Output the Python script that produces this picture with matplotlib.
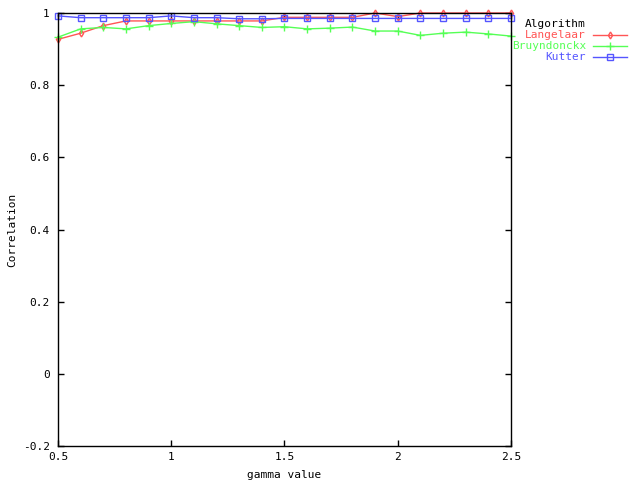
import matplotlib
matplotlib.use("Agg")
import matplotlib.pyplot as plt
from matplotlib.lines import Line2D
from matplotlib.ticker import FuncFormatter

gamma = [0.5, 0.6, 0.7, 0.8, 0.9, 1.0, 1.1, 1.2, 1.3, 1.4, 1.5,
         1.6, 1.7, 1.8, 1.9, 2.0, 2.1, 2.2, 2.3, 2.4, 2.5]
langelaar = [0.927, 0.944, 0.965, 0.978, 0.978, 0.978, 0.978, 0.978, 0.978, 0.978, 0.988,
             0.988, 0.988, 0.988, 1.0, 0.99, 1.0, 1.0, 1.0, 1.0, 1.0]
bruyndonckx = [0.933, 0.956, 0.960, 0.956, 0.965, 0.971, 0.976, 0.970, 0.965, 0.960, 0.962,
               0.956, 0.958, 0.961, 0.950, 0.950, 0.938, 0.944, 0.947, 0.942, 0.936]
kutter = [0.992, 0.987, 0.987, 0.987, 0.987, 0.992, 0.987, 0.987, 0.984, 0.984, 0.985,
          0.985, 0.985, 0.985, 0.985, 0.985, 0.985, 0.985, 0.985, 0.985, 0.985]
series_names = ["Langelaar", "Bruyndonckx", "Kutter"]
x_ticks = [0.5, 1.0, 1.5, 2.0, 2.5]
y_ticks = [-0.2, 0.0, 0.2, 0.4, 0.6, 0.8, 1.0]

colors = ["#ff5555", "#55ff55", "#5555ff"]
markers = ["d", "+", "s"]
msizes = [3.5, 5.5, 4.5]
font = "DejaVu Sans Mono"

fig = plt.figure(figsize=(6.4, 4.8), dpi=100)
ax = fig.add_axes([58/640, 1-446/480, (511-58)/640, (446-13)/480])

data = [langelaar, bruyndonckx, kutter]
for vals, c, m, ms in zip(data, colors, markers, msizes):
    ax.plot(gamma, vals, color=c, lw=1, marker=m, markersize=ms,
            markerfacecolor="none", markeredgecolor=c, markeredgewidth=1, clip_on=False)

ax.set_xlim(0.5, 2.5)
ax.set_ylim(-0.2, 1.0)
ax.set_xticks(x_ticks)
ax.set_yticks(y_ticks)
fmt = FuncFormatter(lambda v, p: ("%g" % round(v, 2)))
ax.xaxis.set_major_formatter(fmt)
ax.yaxis.set_major_formatter(fmt)
ax.tick_params(direction="in", length=4, width=1, top=True, right=True,
               labelsize=8, pad=4)
ax.tick_params(axis="y", pad=6)
for lab in ax.get_xticklabels() + ax.get_yticklabels():
    lab.set_family(font)
for sp in ax.spines.values():
    sp.set_linewidth(1)
    sp.set_color("black")

ax.set_xlabel("gamma value", family=font, fontsize=8, labelpad=6)
ax.set_ylabel("Correlation", family=font, fontsize=8, labelpad=4)

# legend
fig.text(586/640, 1-24/480, "Algorithm", family=font, fontsize=8,
         ha="right", va="center", color="black")
for i, (name, c, m, ms) in enumerate(zip(series_names, colors, markers, msizes)):
    yy = 1 - (34.5 + 11.2*i)/480
    fig.text(586/640, yy, name, family=font, fontsize=8, ha="right", va="center", color=c)
    fig.add_artist(Line2D([593/640, 627/640], [yy, yy], color=c, lw=1,
                          transform=fig.transFigure))
    fig.add_artist(Line2D([610/640], [yy], color=c, marker=m, markersize=ms,
                          markerfacecolor="none", markeredgecolor=c, markeredgewidth=1,
                          transform=fig.transFigure))

fig.savefig("out.png", dpi=100)
